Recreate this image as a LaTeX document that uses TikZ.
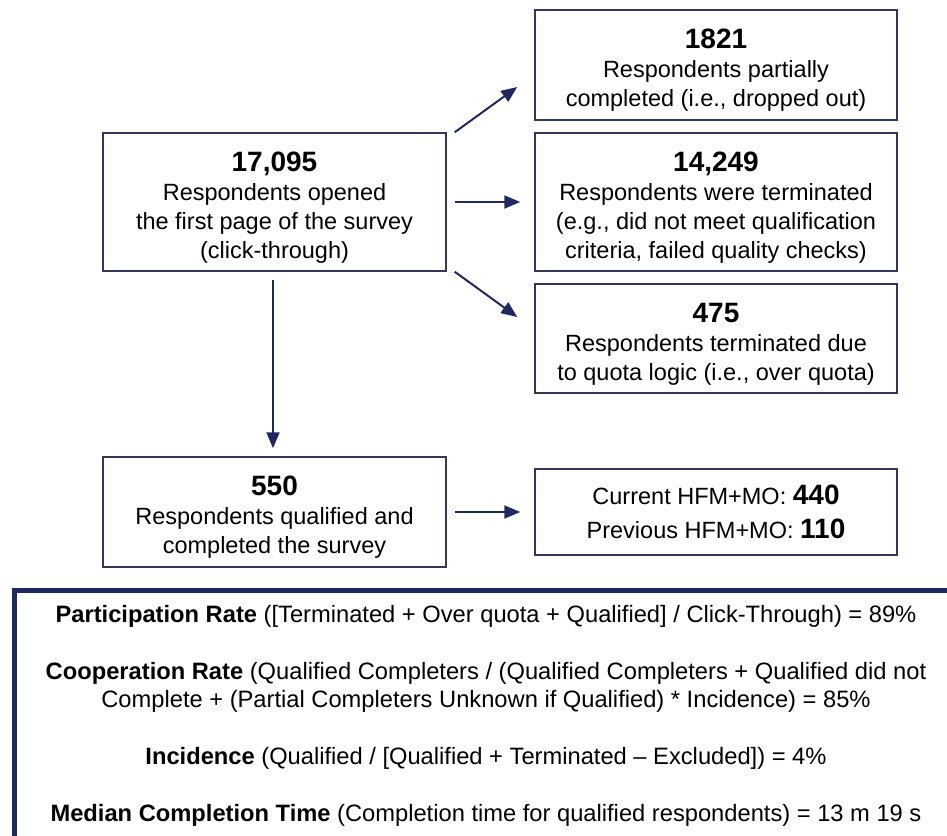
\documentclass[tikz,border=0pt]{standalone}
\usepackage{fontspec}
\setmainfont{Liberation Sans}
\usetikzlibrary{arrows.meta,calc}
\definecolor{navy}{RGB}{32,40,96}
\definecolor{boxline}{RGB}{52,54,92}
\newcommand\bignum[1]{{\fontsize{28}{30}\selectfont\bfseries\rule{0pt}{30pt}#1}}
\begin{document}
\begin{tikzpicture}[x=1pt,y=-1pt,
  fbox/.style={draw=boxline, line width=1.5pt, align=center, inner sep=0pt,
    font=\fontsize{23.5}{29}\selectfont},
  conn/.style={draw=navy, line width=2pt, -{Triangle[length=16pt,width=13pt]}},
  frame/.style={draw=navy, line width=5pt},
  notes/.style={align=center, inner sep=0pt, font=\fontsize{23.7}{28.5}\selectfont}
]
\useasboundingbox (0,0) rectangle (947,835);

\node[fbox, minimum width=343pt, minimum height=138pt] (a) at (274.5,202)
  {\bignum{17,095}\\Respondents opened\\the first page of the survey\\(click-through)};
\node[fbox, minimum width=362pt, minimum height=110pt] (b) at (716,65)
  {\bignum{1821}\\Respondents partially\\completed (i.e., dropped out)};
\node[fbox, minimum width=362pt, minimum height=138pt] (c) at (716,202)
  {\bignum{14,249}\\Respondents were terminated\\(e.g., did not meet qualification\\criteria, failed quality checks)};
\node[fbox, minimum width=362pt, minimum height=109pt] (d) at (716,338.5)
  {\bignum{475}\\Respondents terminated due\\to quota logic (i.e., over quota)};
\node[fbox, minimum width=343pt, minimum height=110pt] (e) at (274.5,512)
  {\bignum{550}\\Respondents qualified and\\completed the survey};
\node[fbox, minimum width=362pt, minimum height=86pt] (f) at (716,512)
  {Current HFM+MO: {\fontsize{28}{30}\selectfont\bfseries 440}\\[5pt]Previous HFM+MO: {\fontsize{28}{30}\selectfont\bfseries 110}};

\draw[conn] ($(a.north east)+(8,0)$) -- ($(b.west)+(-17,22)$);
\draw[conn] ($(a.east)+(8,0)$) -- ($(c.west)+(-14,0)$);
\draw[conn] ($(a.south east)+(8,0)$) -- ($(d.west)+(-17,-21.5)$);
\draw[conn] ($(a.south)+(-1.5,8)$) -- ($(e.north)+(-1.5,-8)$);
\draw[conn] ($(e.east)+(8,0)$) -- ($(f.west)+(-14,0)$);

\draw[frame] (14.5,590.5) rectangle (1000,900);
\node[notes] (n) at (486,716)
  {\textbf{Participation Rate} ([Terminated + Over quota + Qualified] / Click-Through) = 89\%\\[28.5pt]
   \textbf{Cooperation Rate} (Qualified Completers / (Qualified Completers + Qualified did not\\
   Complete + (Partial Completers Unknown if Qualified) * Incidence) = 85\%\\[28.5pt]
   \textbf{Incidence} (Qualified / [Qualified + Terminated – Excluded]) = 4\%\\[28.5pt]
   \textbf{Median Completion Time} (Completion time for qualified respondents) = 13 m 19 s};
\end{tikzpicture}
\end{document}
